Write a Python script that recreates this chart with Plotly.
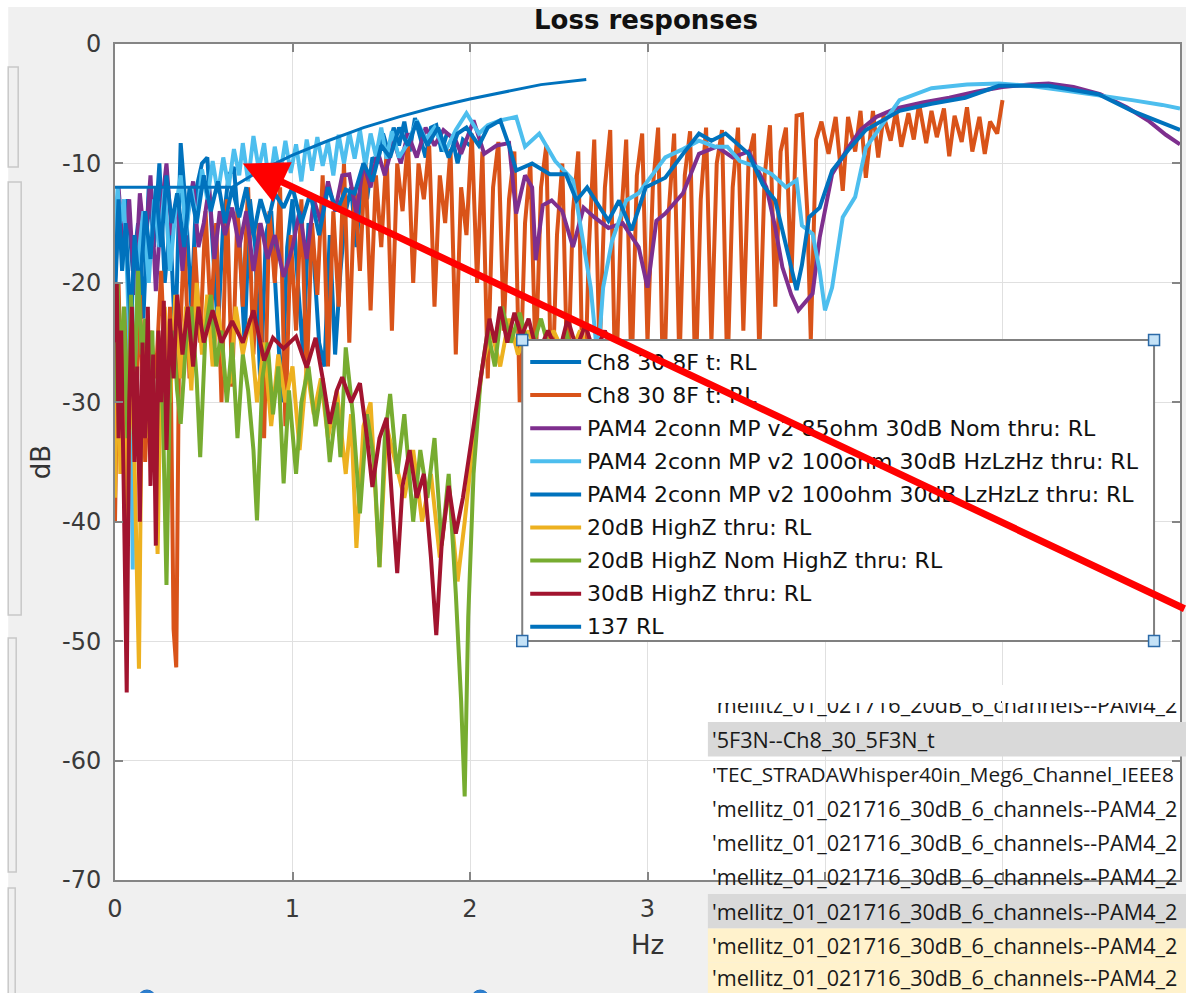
import plotly.graph_objects as go

# ---------------------------------------------------------------- data (frequency in Hz, level in dB)
ch8_blue_x = [0, .02, .04, .07, .10, .13, .16, .19, .22, .25, .28, .31, .34, .37, .40, .43, .46, .49, .52, .55,
              .58, .61, .64, .67, .70, .73, .76, .79, .82, .85, .88, .91, .94, .97, 1.00, 1.03, 1.06, 1.09, 1.12,
              1.15, 1.18, 1.21, 1.24, 1.27, 1.30, 1.33, 1.36, 1.39, 1.42, 1.45, 1.48, 1.51, 1.54, 1.57, 1.60, 1.63,
              1.66, 1.69, 1.72, 1.75, 1.78, 1.81, 1.84, 1.87, 1.90, 1.93, 1.96, 2.00]
ch8_blue_y = [-21, -14, -16, -13, -19, -15, -23, -12, -17, -10, -20, -15, -25, -8.3, -14, -22, -12, -10, -9.5, -17,
              -24, -15, -11, -10.3, -16, -25, -13, -17, -29, -16, -14, -22, -30, -17, -13, -20, -26, -15, -18,
              -25, -27, -16, -26, -19, -14, -12, -17, -11, -13, -9.5, -10, -7.5, -9, -7, -8.5, -6.5,
              -9, -6.2, -8, -9.5, -7, -6.8, -9, -7.5, -7.8, -10, -8, -8.5]

ch8_orange_x = [0, .02, .04, .06, .08, .10, .12, .14, .17, .20, .23, .26, .29, .31, .33, .345, .36, .39, .42, .45,
                .48, .51, .54, .57, .60, .63, .66, .69, .72, .75, .78, .81, .84, .87, .90, .93, .96, .99, 1.02,
                1.05, 1.08, 1.11, 1.14, 1.17, 1.20, 1.23, 1.26, 1.29, 1.32, 1.35, 1.38, 1.41, 1.44, 1.47, 1.50,
                1.53, 1.56, 1.59, 1.62, 1.65, 1.68, 1.71, 1.74, 1.77, 1.80, 1.83, 1.86, 1.89, 1.92, 1.95, 1.98,
                2.01, 2.04, 2.07, 2.10, 2.13, 2.16, 2.19, 2.22, 2.25, 2.28, 2.31, 2.34, 2.37, 2.40, 2.43, 2.46,
                2.49, 2.52, 2.55, 2.58, 2.61, 2.64, 2.67, 2.70, 2.73, 2.76, 2.79, 2.82, 2.85, 2.88, 2.91, 2.94,
                2.97, 3.00, 3.03, 3.06, 3.09, 3.12, 3.15, 3.18, 3.21, 3.24, 3.27, 3.30, 3.33, 3.36, 3.39, 3.42,
                3.45, 3.48, 3.51, 3.54, 3.57, 3.60, 3.63, 3.66, 3.69, 3.72, 3.75, 3.78, 3.81, 3.84, 3.87, 3.90,
                3.92, 3.95, 3.98, 4.02, 4.06, 4.10, 4.13, 4.17, 4.20, 4.23, 4.27, 4.30, 4.33, 4.37, 4.40, 4.43,
                4.47, 4.50, 4.53, 4.57, 4.60, 4.63, 4.67, 4.70, 4.73, 4.77, 4.80, 4.83, 4.87, 4.90, 4.93, 4.97, 5.00]
ch8_orange_y = [-40, -20, -33, -22, -38, -25, -30, -21, -35, -24, -28, -19, -30, -22, -49, -52.2, -27, -16, -28, -17,
                -25, -14, -23, -15, -30, -13, -28.7, -14, -22, -12, -26, -15, -33, -14, -20, -12, -32, -16, -24,
                -13, -28, -15, -21, -11, -27, -14, -22, -10, -25, -12, -19, -9.5, -22.3, -11, -17,
                -9, -24, -10, -14, -8, -20, -10, -13, -8.5, -22, -11, -15, -8.8, -26, -12, -16,
                -7.5, -20, -9, -28, -12, -8.2, -24, -13, -9, -30, -15, -10, -27, -12, -8.5, -31,
                -16, -10, -29, -14, -9, -33, -17, -8, -26, -12, -7.2, -30, -15, -8, -28, -11,
                -7.5, -25, -12, -7, -31, -14, -7.5, -27, -11, -7.3, -29, -13, -7, -25, -10, -7.2,
                -28, -12, -7, -24, -9.5, -7.5, -26, -11, -6.8, -22, -9, -7, -20, -6, -5.9, -14,
                -24.8, -8, -6.5, -9.2, -6.1, -12.3, -6.1, -9, -5.6, -11.2, -5.6, -9.5, -6, -8.1, -5.6, -8.6,
                -5.8, -8, -5, -8.3, -5.6, -7.8, -5.4, -9.4, -6, -8.2, -5.3, -9, -6.1, -9.2, -6.5, -7.5, -4.7]

pam85_x = [0, .02, .05, .08, .11, .14, .17, .20, .23, .26, .29, .32, .35, .38, .41, .44, .47, .50, .53, .56, .59,
           .62, .66, .70, .74, .78, .82, .86, .90, .95, 1.00, 1.04, 1.08, 1.12, 1.16, 1.20, 1.24, 1.28, 1.32, 1.36,
           1.40, 1.44, 1.48, 1.52, 1.57, 1.61, 1.65, 1.70, 1.75, 1.80, 1.85, 1.92, 1.95, 2.02, 2.08, 2.15, 2.22,
           2.26, 2.31, 2.35, 2.37, 2.41, 2.46, 2.52, 2.58, 2.64, 2.70, 2.78, 2.86, 2.95, 3.00, 3.05, 3.10, 3.20,
           3.29, 3.39, 3.48, 3.57, 3.67, 3.72, 3.76, 3.81, 3.85, 3.90, 3.93, 3.97, 4.04, 4.13, 4.20, 4.29, 4.40,
           4.55, 4.70, 4.85, 5.00, 5.15, 5.26, 5.40, 5.55, 5.70, 5.82, 5.92, 6.00]
pam85_y = [-16, -12, -18, -13, -21, -12.5, -17, -11, -20.7, -14, -10, -16, -13, -19, -14.2, -11.5, -17, -15, -12,
           -18, -14, -16, -13.7, -17, -14, -19, -15, -18, -16, -19.5, -17, -14, -18, -13, -15, -11.5, -14, -11,
           -10.9, -14.2, -10, -12, -9, -11, -8.1, -10, -7.5, -9.5, -7, -8.5, -7.2, -8.1, -9.2, -6.4, -9.2, -8.5,
           -8.3, -14.2, -11, -12, -18.1, -13.5, -13.1, -14, -17, -13.7, -14.5, -15.4, -15, -17, -20.4, -14.8,
           -14.2, -12.5, -9.2, -8.6, -9.5, -9, -12, -15.4, -18.7, -21, -22.3, -21.5, -20.9, -16.2, -10.9, -8.7,
           -7.2, -6.1, -5.4, -4.9, -4.5, -4.0, -3.6, -3.4, -3.3, -3.6, -4.2, -5.3, -6.4, -7.6, -8.4]

pam100_hz_x = [0, .015, .03, .05, .07, .09, .10, .11, .13, .16, .19, .22, .25, .28, .31, .34, .37, .40, .43, .46,
               .49, .52, .55, .58, .61, .64, .67, .70, .72, .75, .78, .81, .84, .87, .90, .93, .96, .99, 1.02,
               1.05, 1.08, 1.11, 1.14, 1.17, 1.20, 1.23, 1.26, 1.29, 1.32, 1.35, 1.38, 1.41, 1.44, 1.47, 1.50,
               1.53, 1.56, 1.60, 1.65, 1.70, 1.75, 1.80, 1.86, 1.92, 1.98, 2.05, 2.10, 2.17, 2.26, 2.31, 2.39,
               2.48, 2.58, 2.63, 2.68, 2.71, 2.72, 2.75, 2.80, 2.88, 2.95, 3.03, 3.10, 3.20, 3.29, 3.38, 3.45,
               3.52, 3.62, 3.70, 3.78, 3.84, 3.87, 3.93, 3.97, 4.00, 4.04, 4.10, 4.17, 4.23, 4.34, 4.42, 4.60,
               4.80, 4.98, 5.15, 5.35, 5.55, 5.73, 5.90, 6.00]
pam100_hz_y = [-16, -12, -15, -13, -20, -30, -44, -28, -18, -14, -20, -13, -17, -12, -19, -14, -11, -16, -12, -15,
               -10.5, -13, -9.8, -12.5, -9.5, -12, -8.8, -11, -8.3, -11.5, -7.7, -10.5, -8.3, -12, -8.6, -11,
               -8.1, -10.8, -8.4, -11.5, -8, -10.6, -7.8, -10.2, -8.2, -11, -7.6, -10, -7.4, -9.6, -7.2, -10.2,
               -7.5, -9.4, -7, -9.6, -7.3, -9.5, -8.3, -6.4, -8, -7, -9, -7.2, -5.8, -7.5, -6.8, -6.4, -6.1,
               -8.6, -7.5, -9.8, -11.4, -15.9, -20.4, -25, -26.5, -20.4, -16.5, -13.1, -12.5, -10.9, -9.5,
               -8.8, -8.1, -8.6, -8.6, -9.8, -10.3, -10.9, -12, -11.4, -15.2, -15.9, -19, -22.3, -20.4, -14.5,
               -12.8, -8.7, -6.4, -4.7, -3.7, -3.4, -3.3, -3.5, -3.9, -4.3, -4.7, -5.1, -5.4]

pam100_lz_x = [0, .02, .04, .06, .09, .11, .14, .17, .20, .23, .26, .29, .32, .35, .39, .42, .46, .50, .54, .58,
               .62, .66, .70, .74, .78, .82, .86, .90, .95, 1.00, 1.05, 1.10, 1.15, 1.20, 1.25, 1.30, 1.35, 1.40,
               1.45, 1.50, 1.55, 1.60, 1.65, 1.70, 1.76, 1.82, 1.88, 1.93, 1.98, 2.05, 2.10, 2.17, 2.22, 2.26,
               2.35, 2.45, 2.54, 2.60, 2.66, 2.73, 2.78, 2.84, 2.91, 2.99, 3.10, 3.20, 3.29, 3.36, 3.44, 3.57,
               3.65, 3.72, 3.80, 3.84, 3.87, 3.91, 3.97, 4.04, 4.13, 4.23, 4.42, 4.60, 4.79, 4.98, 5.26, 5.54,
               5.73, 5.88, 6.00]
pam100_lz_y = [-20, -13, -19, -15, -24, -16, -21, -14, -18, -12, -17, -11, -15, -12.5, -17, -12, -15, -11, -14,
               -11.5, -15, -12, -14.5, -12, -16, -13, -15, -12.5, -13.7, -12, -15, -12.5, -16, -12, -14, -12.2,
               -12.5, -10, -11.5, -8.5, -9.5, -7, -8.5, -6.5, -8.5, -7, -9.5, -7.5, -7, -8.5, -7, -6.4, -8.5,
               -10.6, -10, -10.9, -10.9, -13.1, -12, -13.7, -14.8, -13.1, -15.6, -12, -11.2, -9.2, -7.5, -8.1,
               -7.5, -9.2, -11.8, -13.1, -18.1, -20.6, -18.5, -14.5, -13.7, -10.6, -8.9, -7.2, -5.6, -5.0,
               -4.5, -3.5, -3.5, -4.2, -5.6, -6.5, -7.2]

hz20_x = [0, .015, .03, .05, .07, .09, .11, .125, .135, .15, .17, .19, .21, .24, .26, .28, .31, .34, .37, .40,
          .43, .46, .49, .52, .55, .58, .62, .65, .68, .72, .76, .80, .84, .88, .92, .96, 1.00, 1.04, 1.08,
          1.12, 1.16, 1.20, 1.25, 1.30, 1.33, 1.36, 1.40, 1.44, 1.49, 1.53, 1.58, 1.63, 1.68, 1.73, 1.78, 1.83,
          1.88, 1.93, 1.97, 2.02, 2.07, 2.12, 2.17, 2.22, 2.27, 2.33, 2.40, 2.47, 2.55, 2.62, 2.70, 2.78,
          2.86, 2.95, 3.05, 3.15]
hz20_y = [-38, -22, -36, -28, -40, -25, -35, -45, -52.3, -30, -24, -33, -27, -42.7, -26, -22, -30, -21, -28, -22,
          -29, -20, -26, -21, -27, -22, -28, -28.4, -22, -26, -23, -30, -25, -32, -26, -30, -27, -34, -27,
          -31, -28, -33, -29, -36, -31, -42.2, -32, -30, -43.8, -32, -35, -38, -34, -40, -36, -43,
          -37, -45, -40, -33, -27, -24, -27, -23, -26, -24, -27, -24, -26.5, -24, -27, -25,
          -28, -26, -29, -27]

hz20_nom_x = [0, .015, .03, .05, .07, .09, .11, .13, .15, .17, .19, .21, .23, .25, .27, .29, .31, .33, .35, .37,
              .40, .43, .46, .48, .51, .54, .57, .60, .63, .66, .69, .72, .75, .78, .80, .83, .86, .89, .92,
              .95, .98, 1.02, 1.05, 1.09, 1.13, 1.17, 1.21, 1.25, 1.27, 1.30, 1.34, 1.38, 1.42, 1.46, 1.49,
              1.52, 1.55, 1.59, 1.63, 1.68, 1.72, 1.76, 1.80, 1.84, 1.88, 1.92, 1.95, 1.97, 1.99, 2.02, 2.06,
              2.10, 2.14, 2.18, 2.23, 2.28, 2.34, 2.40, 2.47, 2.54, 2.61, 2.68, 2.76, 2.84, 2.93, 3.02, 3.12]
hz20_nom_y = [-30, -20, -27, -22, -33, -21, -28, -19, -26, -23, -30, -24, -36, -25, -31, -45.3, -28, -24, -29,
              -31.8, -25, -22, -28, -34.6, -24, -21, -27, -24, -30, -25, -33, -26, -29, -34, -39.9, -28, -25,
              -31, -27, -36.8, -29, -36, -30, -27, -32, -28, -35, -30, -34.6, -25.4, -31, -39.3, -31, -35,
              -43.8, -33, -29.3, -36, -31, -40, -34, -38, -33, -42, -36, -46, -55, -63, -48, -36, -28,
              -24, -27, -22, -25, -22.5, -26, -23, -27, -24, -28, -25, -29, -26, -30, -27, -30]

hz30_x = [0, .01, .02, .035, .05, .066, .08, .095, .11, .125, .14, .155, .17, .185, .20, .215, .23, .245, .26,
          .275, .29, .31, .33, .35, .38, .41, .44, .47, .50, .55, .60, .66, .72, .78, .84, .89, .95, 1.02, 1.08,
          1.13, 1.17, 1.21, 1.25, 1.28, 1.33, 1.38, 1.42, 1.45, 1.49, 1.53, 1.56, 1.59, 1.62, 1.66, 1.70,
          1.74, 1.78, 1.81, 1.84, 1.88, 1.92, 1.96, 2.00, 2.04, 2.08, 2.11, 2.14, 2.17, 2.21, 2.25, 2.29,
          2.33, 2.38, 2.44, 2.50, 2.55, 2.60, 2.65, 2.70, 2.76, 2.83, 2.90, 2.98, 3.06, 3.15]
hz30_y = [-25, -20, -33, -24, -38, -54.3, -30, -22, -35, -27, -40, -25, -33, -22, -37, -26, -42, -24, -30,
          -21.5, -34, -23, -28, -21, -26, -22, -27, -22, -25, -22.3, -25, -23.2, -25, -22.3, -26.5, -24.6,
          -25.5, -24.5, -27.1, -24.6, -28, -31.8, -29, -27.9, -30, -28.4, -33, -37.1, -33, -31.3, -38,
          -44.3, -37, -34, -38, -36, -43, -49.5, -42, -37, -41, -38, -34, -30, -26, -23, -25, -22, -25,
          -22.5, -24.5, -23, -26, -24, -26, -23, -25.5, -23.5, -26, -24, -27, -25, -28, -26, -29]

rl137_x = [0, 0.66, 0.8, 1.0, 1.2, 1.4, 1.6, 1.8, 2.0, 2.2, 2.4, 2.655]
rl137_y = [-12, -12, -10.75, -9.3, -8.1, -7.0, -6.1, -5.3, -4.6, -4.0, -3.4, -2.97]

# series in drawing order: (name, x, y, colour, width)
series = [
    ("Ch8 30 8F t: RL", ch8_blue_x, ch8_blue_y, "#0072BD", 4),
    ("Ch8 30 8F t: RL", ch8_orange_x, ch8_orange_y, "#D95319", 4),
    ("PAM4 2conn MP v2 85ohm 30dB Nom thru: RL", pam85_x, pam85_y, "#7E2F8E", 4),
    ("PAM4 2conn MP v2 100ohm 30dB HzLzHz thru: RL", pam100_hz_x, pam100_hz_y, "#4DBEEE", 4),
    ("PAM4 2conn MP v2 100ohm 30dB LzHzLz thru: RL", pam100_lz_x, pam100_lz_y, "#0072BD", 4),
    ("20dB HighZ thru: RL", hz20_x, hz20_y, "#EDB120", 4),
    ("20dB HighZ Nom HighZ thru: RL", hz20_nom_x, hz20_nom_y, "#77AC30", 4),
    ("30dB HighZ thru: RL", hz30_x, hz30_y, "#A2142F", 4),
    ("137 RL", rl137_x, rl137_y, "#0072BD", 3),
]

x_ticks = [0, 1, 2, 3, 4, 5, 6]
x_tick_text = ["0", "1", "2", "3", "", "", ""]
y_ticks = [0, -10, -20, -30, -40, -50, -60, -70]
y_tick_text = ["0", "-10", "-20", "-30", "-40", "-50", "-60", "-70"]

table_rows = [
    "'mellitz_01_021716_20dB_6_channels--PAM4_2",
    "'5F3N--Ch8_30_5F3N_t",
    "'TEC_STRADAWhisper40in_Meg6_Channel_IEEE8",
    "'mellitz_01_021716_30dB_6_channels--PAM4_2",
    "'mellitz_01_021716_30dB_6_channels--PAM4_2",
    "'mellitz_01_021716_30dB_6_channels--PAM4_2",
    "'mellitz_01_021716_30dB_6_channels--PAM4_2",
    "'mellitz_01_021716_30dB_6_channels--PAM4_2",
    "'mellitz_01_021716_30dB_6_channels--PAM4_2",
]
table_row_fill = [None, "#d9d9d9", None, None, None, None, "#d9d9d9", "#fff2cc", "#fff2cc"]
table_font_size = [21.6, 21.6, 20.8, 21.6, 21.6, 21.6, 21.6, 21.6, 21.6]

# ---------------------------------------------------------------- page geometry (pixels)
W, H = 1186, 993
PL, PR, PT, PB = 115, 1182, 44, 880


def fx(p):
    return (p - PL) / (PR - PL)


def fy(p):
    return (PB - p) / (PB - PT)


FONT = "DejaVu Sans"

fig = go.Figure()
for name, xs, ys, col, w in series:
    fig.add_trace(go.Scatter(x=xs, y=ys, mode="lines", name=name, showlegend=False,
                             line=dict(color=col, width=w), hoverinfo="skip"))

shapes = []
annotations = []

# window frame: white strip along the top and the left edge
shapes.append(dict(type="rect", xref="paper", yref="paper", x0=fx(-5), x1=fx(W + 5), y0=fy(7), y1=fy(-5),
                   fillcolor="white", line=dict(width=0), layer="below"))
shapes.append(dict(type="rect", xref="paper", yref="paper", x0=fx(-5), x1=fx(8), y0=fy(H + 5), y1=fy(-5),
                   fillcolor="white", line=dict(width=0), layer="below"))

# side panels on the left edge
for top, bot, right in [(67, 167, 18), (182, 615, 21), (638, 872, 16), (888, 1010, 15)]:
    shapes.append(dict(type="rect", xref="paper", yref="paper", x0=fx(8), x1=fx(right), y0=fy(bot), y1=fy(top),
                       fillcolor="#f0f0f0", line=dict(color="#c8c8c8", width=1.5), layer="below"))

# radio buttons along the bottom edge
for cx in [147, 481]:
    shapes.append(dict(type="circle", xref="paper", yref="paper", x0=fx(cx - 9), x1=fx(cx + 9),
                       y0=fy(1008), y1=fy(990), fillcolor="#2c7fd0", line=dict(color="#1f6fbf", width=1),
                       layer="below"))

# ---- legend box
LX0, LX1, LY0, LY1 = 523, 1156, 340, 641
shapes.append(dict(type="rect", xref="paper", yref="paper", x0=fx(LX0), x1=fx(LX1), y0=fy(LY1), y1=fy(LY0),
                   fillcolor="white", line=dict(color="#808080", width=2), layer="above"))
row_y0, row_dy = 362, 33.1
for i, (name, xs, ys, col, w) in enumerate(series):
    ry = row_y0 + i * row_dy
    shapes.append(dict(type="line", xref="paper", yref="paper", x0=fx(531), x1=fx(582), y0=fy(ry), y1=fy(ry),
                       line=dict(color=col, width=4), layer="above"))
    annotations.append(dict(xref="paper", yref="paper", x=fx(586), y=fy(ry), text=name, showarrow=False,
                            xanchor="left", yanchor="middle", font=dict(family=FONT, size=22, color="#111111")))
for hx, hy in [(LX0, LY0), (LX1, LY0), (LX0, LY1), (LX1, LY1)]:
    shapes.append(dict(type="rect", xref="paper", yref="paper", x0=fx(hx - 5.5), x1=fx(hx + 5.5),
                       y0=fy(hy + 5.5), y1=fy(hy - 5.5), fillcolor="#c4e2f7",
                       line=dict(color="#2b6aa8", width=1.5), layer="above"))

# ---- table of file names
TX0, TX1 = 709, 1190
top0, rh = 687.6, 34.4
n_rows = len(table_rows)
for i, (txt, fill, fs) in enumerate(zip(table_rows, table_row_fill, table_font_size)):
    t = top0 + i * rh
    if fill:
        shapes.append(dict(type="rect", xref="paper", yref="paper", x0=fx(TX0), x1=fx(TX1), y0=fy(t + rh),
                           y1=fy(t), fillcolor=fill, line=dict(width=0), layer="above"))
    cy = t + rh / 2 - (3 if i == n_rows - 1 else 0)
    annotations.append(dict(xref="paper", yref="paper", x=fx(711), y=fy(cy), text=txt,
                            showarrow=False, xanchor="left", yanchor="middle",
                            font=dict(family="Open Sans", size=fs, color="#1a1a1a")))
# first row is scrolled half out of view
for a, b in [(709, 826), (828, 1002), (1004, 1180)]:
    annotations.append(dict(xref="paper", yref="paper", x=fx(a), y=fy(685), xanchor="left", yanchor="top",
                            text=" ", showarrow=False, width=b - a, height=18, bgcolor="white",
                            borderpad=0, borderwidth=0))

# ---- titles
annotations.append(dict(xref="paper", yref="paper", x=fx(647), y=fy(20), text="<b>Loss responses</b>",
                        showarrow=False, xanchor="center", yanchor="middle",
                        font=dict(family=FONT, size=26, color="#111111")))
annotations.append(dict(xref="paper", yref="paper", x=fx(648), y=fy(945), text="Hz", showarrow=False,
                        xanchor="center", yanchor="middle", font=dict(family=FONT, size=26, color="#333333")))
annotations.append(dict(xref="paper", yref="paper", x=fx(41), y=fy(462), text="dB", showarrow=False,
                        textangle=-90, xanchor="center", yanchor="middle",
                        font=dict(family=FONT, size=26, color="#333333")))

# ---- red pointer
annotations.append(dict(x=0.72, y=-10.0, xref="x", yref="y", text="", showarrow=True, ax=955, ay=446,
                        arrowcolor="#ff0000", arrowwidth=7, arrowhead=2, arrowsize=1.25, standoff=0))

axis_col = "#858585"
fig.update_layout(
    width=W, height=H,
    margin=dict(l=PL, r=W - PR, t=PT, b=H - PB, pad=0),
    paper_bgcolor="#f0f0f0", plot_bgcolor="white",
    showlegend=False,
    xaxis=dict(range=[0, 6], tickmode="array", tickvals=x_ticks, ticktext=x_tick_text,
               showgrid=True, gridcolor="#e0e0e0", gridwidth=1, zeroline=False,
               showline=True, linecolor=axis_col, linewidth=2, mirror="ticks",
               ticks="inside", ticklen=8, tickwidth=2, tickcolor=axis_col,
               tickfont=dict(family=FONT, size=24, color="#3a3a3a"), ticklabelstandoff=6),
    yaxis=dict(range=[-70, 0], tickmode="array", tickvals=y_ticks, ticktext=y_tick_text,
               showgrid=True, gridcolor="#e0e0e0", gridwidth=1, zeroline=False,
               showline=True, linecolor=axis_col, linewidth=2, mirror="ticks",
               ticks="inside", ticklen=8, tickwidth=2, tickcolor=axis_col,
               tickfont=dict(family=FONT, size=24, color="#3a3a3a"), ticklabelstandoff=7),
    shapes=shapes,
    annotations=annotations,
)

fig.write_html("out.html")
